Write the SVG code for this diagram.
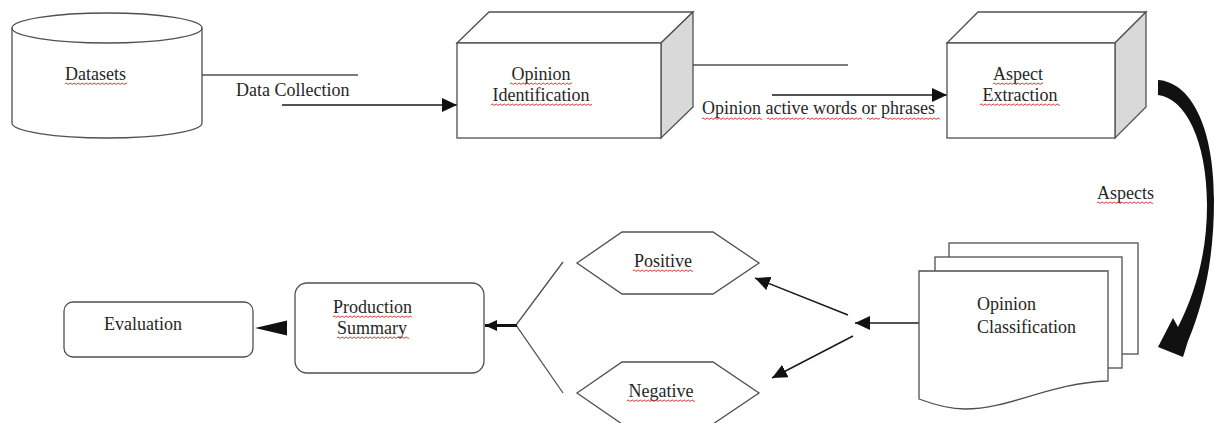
<svg xmlns="http://www.w3.org/2000/svg" width="1215" height="423" viewBox="0 0 1215 423">
<style>
  .t{font-family:"Liberation Serif","Times New Roman",serif;font-size:18px;fill:#262626}
  .m{text-anchor:middle}
  .box{fill:#fff;stroke:#505050;stroke-width:1.3}
  .side{fill:#d9d9d9;stroke:#505050;stroke-width:1.3}
  .ln{fill:none;stroke:#505050;stroke-width:1.3}
  .lk{fill:none;stroke:#1a1a1a;stroke-width:1.5}
  .hd{fill:#111}
</style>
<defs>
  <marker id="ah" viewBox="0 0 15 14" refX="15" refY="7" markerWidth="15" markerHeight="14" markerUnits="userSpaceOnUse" orient="auto">
    <path d="M0,0 L15,7 L0,14 Z" fill="#111"/>
  </marker>
  <marker id="ahs" viewBox="0 0 12 11" refX="12" refY="5.5" markerWidth="12" markerHeight="11" markerUnits="userSpaceOnUse" orient="auto">
    <path d="M0,0 L12,5.5 L0,11 Z" fill="#111"/>
  </marker>
  <pattern id="sq" width="4" height="3" patternUnits="userSpaceOnUse">
    <path d="M0,2 Q1,0 2,1.5 T4,2" fill="none" stroke="#d92a2a" stroke-width="0.9"/>
  </pattern>
</defs>

<g id="connectors">
  <line class="ln" x1="202" y1="75" x2="358" y2="75"/>
  <line class="lk" x1="282" y1="105" x2="457" y2="105" marker-end="url(#ah)"/>
  <line class="ln" x1="693" y1="65" x2="848" y2="65"/>
  <line class="lk" x1="772" y1="95" x2="947" y2="95" marker-end="url(#ah)"/>
  <path class="hd" d="M1158,80 C1190,82 1214,125 1214,200 C1214,262 1203,305 1188,341 L1183,357 L1158,347 L1173,318 L1178,327 C1195,293 1207,255 1207,205 C1207,140 1185,98 1158,95 Z"/>
  <line class="lk" x1="919" y1="323" x2="855" y2="323" marker-end="url(#ah)"/>
  <line class="lk" x1="848" y1="315" x2="755" y2="278" marker-end="url(#ah)"/>
  <line class="lk" x1="853" y1="336" x2="772" y2="378" marker-end="url(#ah)"/>
  <polyline class="ln" points="563,262 516,325 563,393"/>
  <line stroke="#111" stroke-width="3" x1="517" y1="325.5" x2="485" y2="325.5" marker-end="url(#ahs)"/>
  <polygon class="hd" points="255,328 287,320.5 287,335.5"/>
</g>

<g id="datasets">
  <path class="box" d="M12,28 A95,15 0 0 1 202,28 L202,123 A95,15 0 0 1 12,123 Z"/>
  <path class="ln" d="M12,28 A95,15 0 0 0 202,28"/>
  <text class="t" x="65" y="80">Datasets</text>
  <rect x="0" y="0" width="62" height="3" fill="url(#sq)" transform="translate(65,82)"/>
</g>

<g id="data-collection-label">
  <text class="t" x="236" y="96">Data Collection</text>
</g>

<g id="opinion-identification">
  <polygon class="box" points="457,43 489,12 693,12 661,43"/>
  <polygon class="side" points="661,43 693,12 693,107 661,138"/>
  <rect class="box" x="457" y="43" width="204" height="95"/>
  <text class="t m" x="541" y="80">Opinion</text>
  <text class="t m" x="541" y="101">Identification</text>
  <rect x="0" y="0" width="62" height="3" fill="url(#sq)" transform="translate(510,82)"/>
  <rect x="0" y="0" width="101" height="3" fill="url(#sq)" transform="translate(491,103)"/>
</g>

<g id="opinion-words-label">
  <text class="t" x="702" y="114">Opinion active words or phrases</text>
  <rect x="0" y="0" width="60" height="3" fill="url(#sq)" transform="translate(702,117)"/>
  <rect x="0" y="0" width="38" height="3" fill="url(#sq)" transform="translate(767,117)"/>
  <rect x="0" y="0" width="55" height="3" fill="url(#sq)" transform="translate(807,117)"/>
  <rect x="0" y="0" width="13" height="3" fill="url(#sq)" transform="translate(867,117)"/>
  <rect x="0" y="0" width="55" height="3" fill="url(#sq)" transform="translate(885,117)"/>
</g>

<g id="aspect-extraction">
  <polygon class="box" points="947,43 978,12 1146,12 1115,43"/>
  <polygon class="side" points="1115,43 1146,12 1146,107 1115,138"/>
  <rect class="box" x="947" y="43" width="168" height="95"/>
  <text class="t m" x="1018" y="80">Aspect</text>
  <text class="t m" x="1020" y="101">Extraction</text>
  <rect x="0" y="0" width="50" height="3" fill="url(#sq)" transform="translate(993,82)"/>
  <rect x="0" y="0" width="80" height="3" fill="url(#sq)" transform="translate(980,103)"/>
</g>

<g id="aspects-label">
  <text class="t" x="1097" y="199">Aspects</text>
  <rect x="0" y="0" width="56" height="3" fill="url(#sq)" transform="translate(1097,201)"/>
</g>

<g id="opinion-classification">
  <rect class="box" x="949" y="243" width="189" height="111"/>
  <rect class="box" x="935" y="257" width="187" height="111"/>
  <path class="box" d="M919,271 H1108 V381 C1050,383 1010,409 965,409 C950,409 935,405 919,399 Z"/>
  <text class="t" x="977" y="310">Opinion</text>
  <text class="t" x="977" y="333">Classification</text>
</g>

<g id="positive">
  <polygon class="box" points="577,263 622,232 713,232 759,263 713,294 622,294"/>
  <text class="t m" x="663" y="267">Positive</text>
  <rect x="0" y="0" width="60" height="3" fill="url(#sq)" transform="translate(633,269)"/>
</g>

<g id="negative">
  <polygon class="box" points="577,393 622,362 713,362 759,393 713,424 622,424"/>
  <text class="t m" x="661" y="397">Negative</text>
  <rect x="0" y="0" width="68" height="3" fill="url(#sq)" transform="translate(627,399)"/>
</g>

<g id="production-summary">
  <rect class="box" x="295" y="283" width="189" height="90" rx="12"/>
  <text class="t" x="333" y="313">Production</text>
  <text class="t" x="337" y="334">Summary</text>
  <rect x="0" y="0" width="79" height="3" fill="url(#sq)" transform="translate(333,315)"/>
  <rect x="0" y="0" width="72" height="3" fill="url(#sq)" transform="translate(337,336)"/>
</g>

<g id="evaluation">
  <rect class="box" x="64" y="302" width="189" height="55" rx="9"/>
  <text class="t" x="104" y="330">Evaluation</text>
</g>
</svg>
